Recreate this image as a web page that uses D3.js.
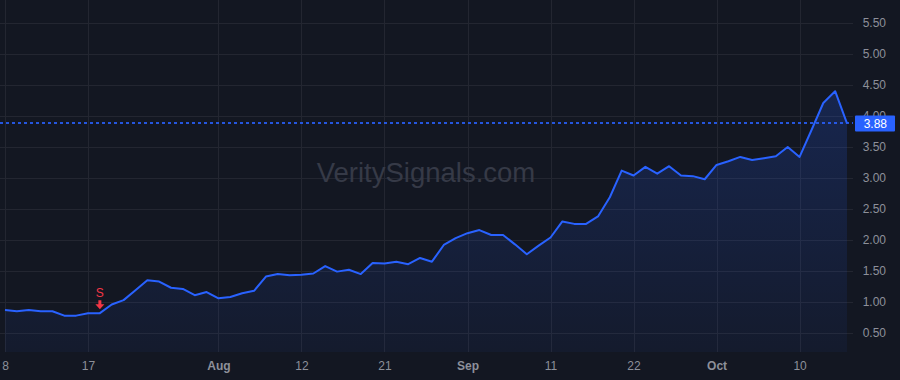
<!DOCTYPE html>
<html>
<head>
<meta charset="utf-8">
<script src="https://cdn.jsdelivr.net/npm/d3@7"></script>
<style>
	body{margin:0;background:#131722;}
	svg{display:block;font-family:'Liberation Sans',Arial,sans-serif;}
</style>
</head>
<body>
<svg id="chart" width="900" height="380"></svg>
<script>
/*closing prices, one per bar*/
const values = [
	0.87,0.85,0.87,0.85,0.85,0.78,0.78,0.82,0.82,0.96,
	1.03,1.19,1.35,1.33,1.23,1.21,1.11,1.16,1.06,1.08,
	1.14,1.18,1.41,1.45,1.43,1.44,1.46,1.58,1.49,1.52,
	1.45,1.63,1.62,1.65,1.61,1.71,1.65,1.92,2.03,2.11,
	2.16,2.08,2.08,1.93,1.77,1.91,2.04,2.30,2.26,2.26,
	2.38,2.69,3.12,3.04,3.18,3.07,3.19,3.04,3.03,2.98,
	3.21,3.27,3.34,3.29,3.32,3.35,3.50,3.34,3.77,4.21,
	4.40,3.88
]
const tick_bars = [0,7,18,25,32,39,46,53,60,67]
const tick_labels = ['8','17','Aug','12','21','Sep','11','22','Oct','10']
const month_labels = ['Aug','Sep','Oct']
const price_ticks = [0.5,1,1.5,2,2.5,3,3.5,4,4.5,5,5.5]
const signal_bar = 8
const last_price = 3.88

const W = 900, H = 380
const plot_w = 853, plot_h = 352

const svg = d3.select('#chart')

const xScale = d3.scaleLinear()
	.domain([0, values.length - 1])
	.range([5, 847])

const yScale = d3.scaleLinear()
	.domain([0.5, 5.5])
	.range([333, 23])

svg.append('rect')
	.attr('width', W).attr('height', H)
	.attr('fill', '#131722')

const defs = svg.append('defs')
const grad = defs.append('linearGradient')
	.attr('id','fill_grad')
	.attr('gradientUnits','userSpaceOnUse')
	.attr('x1',0).attr('x2',0)
	.attr('y1',yScale(d3.max(values))).attr('y2',plot_h)
grad.append('stop').attr('offset','0%').attr('stop-color','#2962ff').attr('stop-opacity',0.2)
grad.append('stop').attr('offset','100%').attr('stop-color','#2962ff').attr('stop-opacity',0.05)

/*grid*/
const grid = svg.append('g')
grid.selectAll('.hgrid')
	.data(price_ticks)
	.enter()
	.append('line')
	.attr('x1',0).attr('x2',plot_w)
	.attr('y1',d => Math.round(yScale(d)) + 0.5)
	.attr('y2',d => Math.round(yScale(d)) + 0.5)
	.attr('stroke','#232631')
grid.selectAll('.vgrid')
	.data(tick_bars)
	.enter()
	.append('line')
	.attr('y1',0).attr('y2',plot_h)
	.attr('x1',d => Math.round(xScale(d)) + 0.5)
	.attr('x2',d => Math.round(xScale(d)) + 0.5)
	.attr('stroke','#232631')

/*watermark*/
svg.append('text')
	.attr('x',426).attr('y',182)
	.attr('text-anchor','middle')
	.attr('font-size',27.5)
	.attr('fill','#363a47')
	.text('VeritySignals.com')

/*area + line*/
const area = d3.area()
	.x((d,i) => xScale(i))
	.y0(plot_h)
	.y1(d => yScale(d))

const line = d3.line()
	.x((d,i) => xScale(i))
	.y(d => yScale(d))

svg.append('path')
	.datum(values)
	.attr('d', area)
	.attr('fill','url(#fill_grad)')

svg.append('path')
	.datum(values)
	.attr('d', line)
	.attr('fill','none')
	.attr('stroke','#2962ff')
	.attr('stroke-width',2)
	.attr('stroke-linejoin','round')

/*last price line*/
const ly = yScale(last_price)
svg.append('path')
	.attr('d',`M0,${Math.round(ly)}h${plot_w}`)
	.attr('stroke','#2962ff')
	.attr('stroke-width',2)
	.attr('stroke-dasharray','3,3')
	.attr('shape-rendering','crispEdges')
	.attr('opacity',0.85)

/*sell marker*/
const sx = xScale(signal_bar)
const sy = yScale(values[signal_bar])
svg.append('text')
	.attr('x',sx).attr('y',sy - 16)
	.attr('text-anchor','middle')
	.attr('font-size',12)
	.attr('fill','#f23645')
	.text('S')
svg.append('path')
	.attr('d',`M${sx-1.5},${sy-13} h3 v4 h3 l-4.5,5 l-4.5,-5 h3 z`)
	.attr('fill','#f23645')

/*axes*/
const axisY = svg.append('g')
	.attr('transform',`translate(886,0)`)
	.call(d3.axisLeft(yScale).tickValues(price_ticks).tickSize(0).tickPadding(0).tickFormat(d3.format('.2f')))
axisY.select('.domain').remove()
axisY.selectAll('text')
	.attr('fill','#8d909a')
	.attr('font-size',12)
	.attr('font-family','Liberation Sans, Arial, sans-serif')

const axisX = svg.append('g')
	.attr('transform',`translate(0,${plot_h})`)
	.call(d3.axisBottom(xScale).tickValues(tick_bars).tickSize(0).tickPadding(9).tickFormat((d,i) => tick_labels[i]))
axisX.select('.domain').remove()
axisX.selectAll('text')
	.attr('fill','#8d909a')
	.attr('font-size',12)
	.attr('font-family','Liberation Sans, Arial, sans-serif')
	.attr('font-weight',(d,i) => month_labels.includes(tick_labels[i]) ? 'bold' : 'normal')

/*last price tag*/
svg.append('rect')
	.attr('x',855).attr('y',ly - 8)
	.attr('width',40).attr('height',16)
	.attr('rx',1)
	.attr('fill','#2962ff')
svg.append('text')
	.attr('x',887).attr('y',ly)
	.attr('dy','0.35em')
	.attr('text-anchor','end')
	.attr('font-size',12)
	.attr('fill','#fff')
	.text(last_price.toFixed(2))
</script>
</body>
</html>
